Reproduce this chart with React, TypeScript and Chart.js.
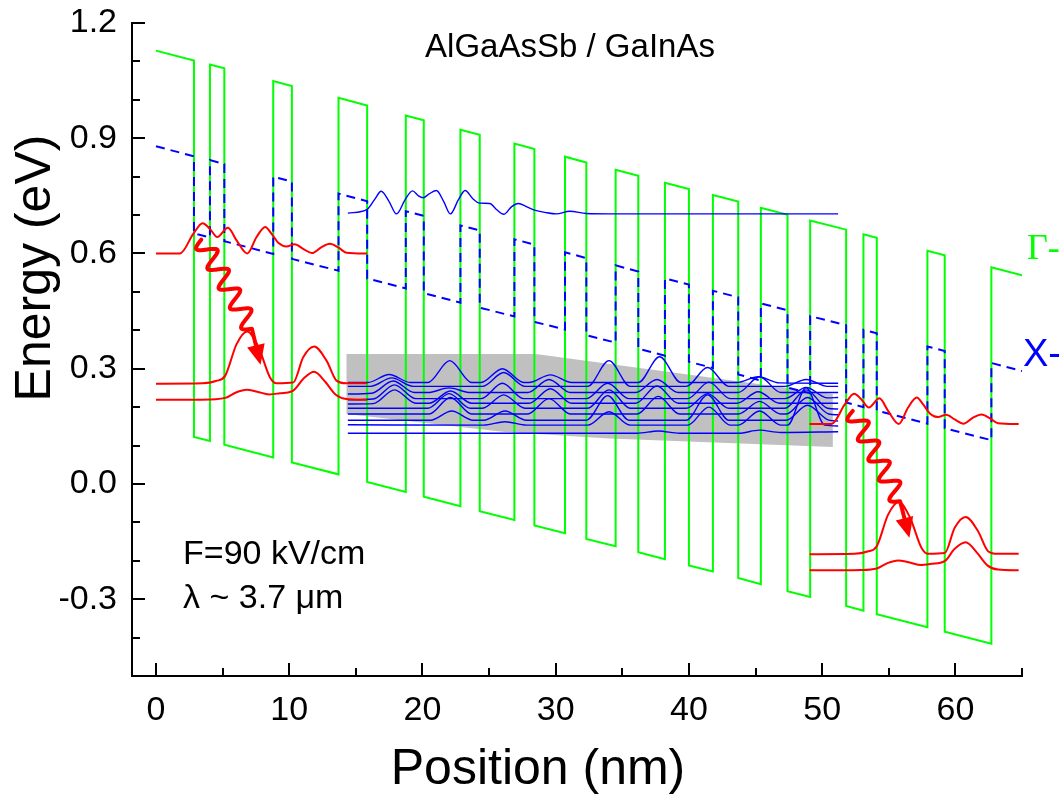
import React, { useEffect, useRef } from 'react';
import { Chart, registerables } from 'chart.js';

Chart.register(...registerables);

type P = [number, number];

const W = 1059;
const H = 796;
const FONT = '"Liberation Sans", Arial, sans-serif';

// axis ranges and ticks
const X_MIN = -1.8;
const X_MAX = 65;
const Y_MIN = -0.5;
const Y_MAX = 1.2;
const xMajor = [0, 10, 20, 30, 40, 50, 60];
const xMajorLabels = ['0', '10', '20', '30', '40', '50', '60'];
const xMinor = [5, 15, 25, 35, 45, 55, 65];
const yMajor = [-0.3, 0, 0.3, 0.6, 0.9, 1.2];
const yMajorLabels = ['-0.3', '0.0', '0.3', '0.6', '0.9', '1.2'];
const yMinor = [-0.4, -0.2, -0.1, 0.1, 0.2, 0.4, 0.5, 0.7, 0.8, 1.0, 1.1];

// Γ-band conduction band profile (position nm, energy eV)
const gammaBand: P[] = [
  [0, 1.128], [2.85, 1.102], [2.85, 0.122], [4.05, 0.112], [4.05, 1.092], [5.13, 1.082], [5.13, 0.102],
  [8.8, 0.069], [8.8, 1.049], [10.2, 1.036], [10.2, 0.056], [13.7, 0.025], [13.7, 1.005], [15.85, 0.985],
  [15.85, 0.005], [18.75, -0.021], [18.75, 0.959], [20.1, 0.947], [20.1, -0.033], [22.85, -0.058],
  [22.85, 0.922], [24.3, 0.909], [24.3, -0.071], [26.9, -0.094], [26.9, 0.886], [28.4, 0.872],
  [28.4, -0.108], [30.7, -0.128], [30.7, 0.852], [32.3, 0.837], [32.3, -0.143], [34.5, -0.162],
  [34.5, 0.818], [36.2, 0.802], [36.2, -0.178], [38.2, -0.196], [38.2, 0.784], [40.0, 0.768],
  [40.0, -0.212], [41.8, -0.228], [41.8, 0.752], [43.7, 0.735], [43.7, -0.245], [45.4, -0.261],
  [45.4, 0.719], [47.4, 0.701], [47.4, -0.279], [49.1, -0.294], [49.1, 0.686], [51.8, 0.662],
  [51.8, -0.318], [53.1, -0.33], [53.1, 0.65], [54.1, 0.641], [54.1, -0.339], [57.9, -0.373],
  [57.9, 0.607], [59.2, 0.595], [59.2, -0.385], [62.7, -0.416], [62.7, 0.564], [65, 0.543],
];

// X-band profile
const xBand: P[] = [
  [0, 0.879], [2.85, 0.853], [2.85, 0.652], [4.05, 0.642], [4.05, 0.843], [5.13, 0.833], [5.13, 0.632],
  [8.8, 0.599], [8.8, 0.8], [10.2, 0.787], [10.2, 0.586], [13.7, 0.555], [13.7, 0.756], [15.85, 0.736],
  [15.85, 0.535], [18.75, 0.509], [18.75, 0.71], [20.1, 0.698], [20.1, 0.497], [22.85, 0.472],
  [22.85, 0.673], [24.3, 0.66], [24.3, 0.459], [26.9, 0.436], [26.9, 0.637], [28.4, 0.623],
  [28.4, 0.422], [30.7, 0.402], [30.7, 0.603], [32.3, 0.588], [32.3, 0.387], [34.5, 0.368],
  [34.5, 0.569], [36.2, 0.553], [36.2, 0.352], [38.2, 0.334], [38.2, 0.535], [40.0, 0.519],
  [40.0, 0.318], [41.8, 0.302], [41.8, 0.503], [43.7, 0.486], [43.7, 0.285], [45.4, 0.269],
  [45.4, 0.47], [47.4, 0.452], [47.4, 0.251], [49.1, 0.236], [49.1, 0.437], [51.8, 0.413],
  [51.8, 0.212], [53.1, 0.2], [53.1, 0.401], [54.1, 0.392], [54.1, 0.191], [57.9, 0.157],
  [57.9, 0.358], [59.2, 0.346], [59.2, 0.145], [62.7, 0.114], [62.7, 0.315], [65, 0.294],
];

// red wavefunctions, first period
const redUpperA: P[] = [
  [0, 0.6], [1.8, 0.6], [2.8, 0.651], [3.5, 0.679], [4.05, 0.664], [4.6, 0.643], [5.4, 0.667],
  [6.05, 0.634], [6.85, 0.6], [7.55, 0.643], [8.2, 0.669], [8.68, 0.651], [9.2, 0.627], [9.8, 0.618],
  [10.4, 0.624], [11.05, 0.612], [11.7, 0.601], [12.4, 0.616], [13.05, 0.625], [13.7, 0.615],
  [14.3, 0.602], [15.85, 0.6],
];
const redMidA: P[] = [
  [0, 0.261], [3.5, 0.262], [4.5, 0.268], [5.2, 0.282], [6.05, 0.364], [6.85, 0.397], [7.7, 0.356],
  [8.55, 0.278], [9.05, 0.262], [10.3, 0.264], [11.05, 0.33], [11.87, 0.358], [12.8, 0.321],
  [13.55, 0.269], [14.3, 0.262], [15.85, 0.262],
];
const redLowA: P[] = [
  [0, 0.219], [4.0, 0.22], [5.2, 0.224], [6.0, 0.238], [6.8, 0.245], [7.6, 0.24], [8.5, 0.233],
  [9.3, 0.236], [10.3, 0.243], [11.1, 0.275], [11.87, 0.292], [12.7, 0.266], [13.5, 0.232],
  [14.3, 0.221], [15.85, 0.219],
];
// red wavefunctions, next period
const redUpperB: P[] = [
  [49.05, 0.156], [50.7, 0.156], [51.7, 0.207], [52.4, 0.235], [52.95, 0.22], [53.5, 0.199],
  [54.3, 0.223], [54.95, 0.19], [55.75, 0.156], [56.45, 0.199], [57.1, 0.225], [57.58, 0.207],
  [58.1, 0.183], [58.7, 0.174], [59.3, 0.18], [59.95, 0.168], [60.6, 0.157], [61.3, 0.172],
  [61.95, 0.181], [62.6, 0.171], [63.2, 0.158], [64.75, 0.156],
];
const redMidB: P[] = [
  [49.05, -0.183], [52.4, -0.182], [53.4, -0.176], [54.1, -0.162], [54.95, -0.08], [55.75, -0.047],
  [56.6, -0.088], [57.45, -0.166], [57.95, -0.182], [59.2, -0.18], [59.95, -0.114], [60.77, -0.086],
  [61.7, -0.123], [62.45, -0.175], [63.2, -0.182], [64.75, -0.182],
];
const redLowB: P[] = [
  [49.05, -0.225], [52.9, -0.224], [54.1, -0.22], [54.9, -0.206], [55.7, -0.199], [56.5, -0.204],
  [57.45, -0.211], [58.2, -0.208], [59.2, -0.201], [59.95, -0.169], [60.77, -0.152], [61.6, -0.178],
  [62.4, -0.212], [63.2, -0.223], [64.75, -0.225],
];

// blue continuum state
const blueUpper: P[] = [
  [14.4, 0.705], [15.85, 0.715], [16.4, 0.74], [16.9, 0.762], [17.5, 0.735], [18.05, 0.703],
  [18.7, 0.74], [19.25, 0.763], [19.7, 0.75], [20.05, 0.745], [20.5, 0.755], [21.05, 0.764],
  [21.6, 0.735], [22.1, 0.703], [22.7, 0.74], [23.2, 0.764], [23.8, 0.742], [24.3, 0.731],
  [25.05, 0.73], [25.6, 0.713], [26.1, 0.702], [26.7, 0.722], [27.2, 0.73], [27.8, 0.722],
  [28.3, 0.714], [29.2, 0.707], [30.05, 0.703], [31.05, 0.71], [32.3, 0.704], [34.0, 0.703],
  [51.2, 0.703],
];

// blue miniband states
const mb1: P[] = [
  [14.4, 0.264], [15.9, 0.264], [17.5, 0.285], [19.1, 0.264], [20.4, 0.264], [22.05, 0.321], [23.7, 0.264],
  [24.4, 0.264], [26.0, 0.3], [27.6, 0.264], [28.0, 0.264], [29.6, 0.284], [31.2, 0.264], [36.2, 0.264],
  [37.8, 0.331], [39.4, 0.264], [43.6, 0.264], [45.2, 0.279], [46.8, 0.263], [51.2, 0.262],
];
const mb2: P[] = [
  [14.4, 0.254], [16.1, 0.254], [17.7, 0.276], [19.3, 0.254], [24.5, 0.254], [26.1, 0.29], [27.7, 0.254],
  [32.4, 0.254], [34.0, 0.321], [35.6, 0.254], [39.8, 0.254], [41.4, 0.303], [43.0, 0.254], [47.2, 0.254],
  [48.8, 0.272], [50.4, 0.254], [51.2, 0.254],
];
const mb3: P[] = [
  [14.4, 0.234], [16.2, 0.236], [17.8, 0.268], [19.4, 0.238], [20.4, 0.238], [22.0, 0.25], [23.6, 0.238],
  [27.9, 0.238], [29.5, 0.272], [31.1, 0.238], [36.0, 0.238], [37.6, 0.272], [39.2, 0.238], [43.7, 0.238],
  [45.3, 0.279], [46.9, 0.238], [51.2, 0.238],
];
const mb4: P[] = [
  [14.4, 0.219], [16.3, 0.221], [17.9, 0.258], [19.5, 0.222], [24.4, 0.222], [26.0, 0.262], [27.6, 0.222],
  [32.3, 0.222], [33.9, 0.262], [35.5, 0.222], [39.9, 0.222], [41.5, 0.265], [43.1, 0.222], [47.2, 0.222],
  [48.8, 0.251], [50.4, 0.224], [51.2, 0.225],
];
const mb5: P[] = [
  [14.4, 0.208], [16.3, 0.209], [17.9, 0.245], [19.5, 0.21], [20.5, 0.21], [22.1, 0.242], [23.7, 0.21],
  [28.0, 0.21], [29.6, 0.248], [31.2, 0.21], [36.0, 0.21], [37.6, 0.255], [39.2, 0.21], [43.6, 0.21],
  [45.2, 0.24], [46.8, 0.21], [51.2, 0.21],
];
const mb6: P[] = [
  [14.4, 0.197], [20.4, 0.197], [22.0, 0.235], [23.6, 0.197], [24.5, 0.197], [26.1, 0.232], [27.7, 0.197],
  [32.4, 0.197], [34.0, 0.245], [35.6, 0.197], [39.8, 0.197], [41.4, 0.235], [43.0, 0.197], [47.2, 0.197],
  [48.8, 0.245], [50.4, 0.197], [51.2, 0.195],
];
const mb7: P[] = [
  [14.4, 0.182], [20.5, 0.182], [22.1, 0.225], [23.7, 0.182], [27.9, 0.182], [29.5, 0.222], [31.1, 0.182],
  [36.1, 0.182], [37.7, 0.228], [39.3, 0.182], [43.7, 0.182], [45.3, 0.215], [46.9, 0.182], [47.3, 0.182],
  [48.9, 0.225], [50.5, 0.182], [51.2, 0.18],
];
const mb8: P[] = [
  [14.4, 0.166], [20.6, 0.166], [22.2, 0.19], [23.8, 0.166], [24.6, 0.166], [26.2, 0.19], [27.8, 0.166],
  [32.3, 0.166], [33.9, 0.23], [35.5, 0.166], [39.8, 0.166], [41.4, 0.232], [43.0, 0.166], [47.3, 0.166],
  [48.9, 0.205], [50.5, 0.166], [51.2, 0.164],
];
const mb9: P[] = [
  [14.4, 0.154], [24.6, 0.153], [26.2, 0.162], [27.8, 0.153], [32.4, 0.153], [34.0, 0.188], [35.6, 0.153],
  [39.9, 0.153], [41.5, 0.2], [43.1, 0.153], [43.7, 0.153], [45.3, 0.19], [46.9, 0.153], [47.4, 0.153],
  [48.8, 0.25], [50.2, 0.153], [51.2, 0.151],
];
const mb10: P[] = [
  [14.4, 0.132], [36.1, 0.132], [37.7, 0.138], [39.3, 0.132], [43.7, 0.132], [45.3, 0.14], [46.9, 0.134],
  [51.2, 0.136],
];
const minibandStates = [mb1, mb2, mb3, mb4, mb5, mb6, mb7, mb8, mb9, mb10];

// shaded miniband outline
const minibandShade: P[] = [
  [14.3, 0.338], [28.5, 0.338], [50.8, 0.234], [50.8, 0.096], [34.0, 0.118], [26.0, 0.136], [14.3, 0.182],
];

// photon emission arrows: start of wiggle, end of wiggle, arrow tip
const arrowA: P[] = [[3.4, 0.636], [7.2, 0.404], [7.85, 0.31]];
const arrowB: P[] = [[52.3, 0.19], [55.85, -0.045], [56.55, -0.14]];

// text annotations (data coords of left baseline)
const titleText = { text: 'AlGaAsSb / GaInAs', x: 20.2, y: 1.111 };
const fieldText = { text: 'F=90 kV/cm', x: 2.03, y: -0.208 };
const lambdaText = { text: 'λ ~ 3.7 μm', x: 2.03, y: -0.323 };

const xy = (arr: P[]) => arr.map(([x, y]) => ({ x, y }));

function drawWavyArrow(ctx: CanvasRenderingContext2D, pts: number[][]) {
  const [x0, y0] = pts[0];
  const [x1, y1] = pts[1];
  const [x2, y2] = pts[2];
  const dx = x1 - x0;
  const dy = y1 - y0;
  const L = Math.hypot(dx, dy);
  const nx = -dy / L;
  const ny = dx / L;
  const waves = 4.5;
  const amp = 9;
  ctx.beginPath();
  const N = 240;
  for (let i = 0; i <= N; i++) {
    const t = i / N;
    const s = Math.sin(t * waves * 2 * Math.PI) * amp;
    const px = x0 + dx * t + nx * s;
    const py = y0 + dy * t + ny * s;
    if (i === 0) ctx.moveTo(px, py);
    else ctx.lineTo(px, py);
  }
  const hx = x2 - x1;
  const hy = y2 - y1;
  const hl = Math.hypot(hx, hy);
  const ux = hx / hl;
  const uy = hy / hl;
  const headLen = 20;
  const headW = 9;
  const bx = x2 - ux * headLen;
  const by = y2 - uy * headLen;
  ctx.lineTo(bx + ux * 2, by + uy * 2);
  ctx.stroke();
  ctx.beginPath();
  ctx.moveTo(x2, y2);
  ctx.lineTo(bx - uy * headW, by + ux * headW);
  ctx.lineTo(bx + uy * headW, by - ux * headW);
  ctx.closePath();
  ctx.fill();
}

const decorPlugin = {
  id: 'decor',
  beforeDatasetsDraw(chart: any) {
    const { ctx } = chart;
    const xs = chart.scales.x;
    const ys = chart.scales.y;
    ctx.save();
    ctx.beginPath();
    minibandShade.forEach(([a, b], i) => {
      const px = xs.getPixelForValue(a);
      const py = ys.getPixelForValue(b);
      if (i === 0) ctx.moveTo(px, py);
      else ctx.lineTo(px, py);
    });
    ctx.closePath();
    ctx.fillStyle = '#c0c0c0';
    ctx.fill();
    ctx.restore();
  },
  afterDraw(chart: any) {
    const { ctx, chartArea } = chart;
    const xs = chart.scales.x;
    const ys = chart.scales.y;
    ctx.save();
    // inward tick marks
    ctx.strokeStyle = '#000';
    ctx.lineWidth = 2;
    const tick = (len: number, horizontal: boolean, v: number) => {
      ctx.beginPath();
      if (horizontal) {
        const px = Math.round(xs.getPixelForValue(v));
        ctx.moveTo(px, chartArea.bottom);
        ctx.lineTo(px, chartArea.bottom - len);
      } else {
        const py = Math.round(ys.getPixelForValue(v));
        ctx.moveTo(chartArea.left, py);
        ctx.lineTo(chartArea.left + len, py);
      }
      ctx.stroke();
    };
    xMajor.forEach((v) => tick(13, true, v));
    xMinor.forEach((v) => tick(8, true, v));
    yMajor.forEach((v) => tick(13, false, v));
    yMinor.forEach((v) => tick(8, false, v));

    // emission arrows
    ctx.strokeStyle = '#ff0000';
    ctx.fillStyle = '#ff0000';
    ctx.lineWidth = 4;
    ctx.lineJoin = 'round';
    ctx.lineCap = 'round';
    [arrowA, arrowB].forEach((a) => {
      drawWavyArrow(ctx, a.map(([x, y]) => [xs.getPixelForValue(x), ys.getPixelForValue(y)]));
    });

    // texts
    ctx.fillStyle = '#000';
    ctx.textAlign = 'left';
    ctx.textBaseline = 'alphabetic';
    ctx.font = `33px ${FONT}`;
    ctx.fillText(titleText.text, xs.getPixelForValue(titleText.x), ys.getPixelForValue(titleText.y));
    ctx.font = `34px ${FONT}`;
    ctx.fillText(fieldText.text, xs.getPixelForValue(fieldText.x), ys.getPixelForValue(fieldText.y));
    ctx.fillText(lambdaText.text, xs.getPixelForValue(lambdaText.x), ys.getPixelForValue(lambdaText.y));

    // band labels (extend past the right edge)
    ctx.textBaseline = 'middle';
    ctx.fillStyle = '#00ff00';
    ctx.font = `36px "Liberation Serif", serif`;
    ctx.fillText('Γ-band', 1027, 250);
    ctx.fillStyle = '#0000ff';
    ctx.font = `38px ${FONT}`;
    ctx.fillText('X-band', 1023, 356);

    // axis titles
    ctx.fillStyle = '#000';
    ctx.textAlign = 'center';
    ctx.font = `50px ${FONT}`;
    ctx.fillText('Position (nm)', 538, 770);
    ctx.translate(36, 268);
    ctx.rotate(-Math.PI / 2);
    ctx.fillText('Energy (eV)', 0, 0);
    ctx.restore();
  },
};

const lineDs = (data: P[], color: string, width: number, extra: any = {}) => ({
  type: 'line' as const,
  data: xy(data),
  borderColor: color,
  backgroundColor: color,
  borderWidth: width,
  pointRadius: 0,
  pointHoverRadius: 0,
  fill: false,
  ...extra,
});

export default function App() {
  const ref = useRef<HTMLCanvasElement>(null);
  useEffect(() => {
    if (!ref.current) return;
    const smooth = { cubicInterpolationMode: 'monotone' };
    const datasets: any[] = [];
    datasets.push(lineDs(gammaBand, '#00ff00', 2, { order: 9 }));
    datasets.push(lineDs(xBand, '#0000ff', 2, { order: 8, borderDash: [9, 6] }));
    datasets.push(lineDs(blueUpper, '#0000ff', 1.4, { order: 7, ...smooth }));
    minibandStates.forEach((m) => datasets.push(lineDs(m, '#0000ff', 1.4, { order: 7, ...smooth })));
    [redUpperA, redMidA, redLowA, redUpperB, redMidB, redLowB].forEach((r) =>
      datasets.push(lineDs(r, '#ff0000', 2, { order: 6, ...smooth }))
    );

    const chart = new Chart(ref.current, {
      type: 'line',
      data: { datasets },
      options: {
        responsive: false,
        animation: false,
        devicePixelRatio: 1,
        events: [],
        layout: { padding: { top: 23, right: 37, left: 0, bottom: 0 } },
        plugins: { legend: { display: false }, tooltip: { enabled: false } },
        scales: {
          x: {
            type: 'linear',
            min: X_MIN,
            max: X_MAX,
            afterBuildTicks: (s: any) => {
              s.ticks = xMajor.map((v) => ({ value: v }));
            },
            afterFit: (s: any) => {
              s.height = 120;
              s.paddingLeft = 0;
              s.paddingRight = 0;
            },
            ticks: {
              autoSkip: false,
              maxRotation: 0,
              padding: 14,
              color: '#000',
              font: { family: FONT, size: 34 },
              callback: (v: any) => {
                const i = xMajor.findIndex((m) => Math.abs(m - v) < 1e-6);
                return i >= 0 ? xMajorLabels[i] : '';
              },
            },
            grid: { display: false, drawTicks: false },
            border: { display: true, color: '#000', width: 2 },
          },
          y: {
            type: 'linear',
            min: Y_MIN,
            max: Y_MAX,
            afterBuildTicks: (s: any) => {
              s.ticks = yMajor.map((v) => ({ value: v }));
            },
            afterFit: (s: any) => {
              s.width = 132;
              s.paddingTop = 0;
              s.paddingBottom = 0;
            },
            ticks: {
              autoSkip: false,
              padding: 15,
              color: '#000',
              font: { family: FONT, size: 34 },
              callback: (v: any) => {
                const i = yMajor.findIndex((m) => Math.abs(m - v) < 1e-6);
                return i >= 0 ? yMajorLabels[i] : '';
              },
            },
            grid: { display: false, drawTicks: false },
            border: { display: true, color: '#000', width: 2 },
          },
        },
      } as any,
      plugins: [decorPlugin],
    });
    return () => chart.destroy();
  }, []);
  return (
    <div style={{ position: 'fixed', left: 0, top: 0, width: W, height: H, overflow: 'hidden', background: '#fff' }}>
      <canvas ref={ref} width={W} height={H} style={{ display: 'block', width: W, height: H }} />
    </div>
  );
}
